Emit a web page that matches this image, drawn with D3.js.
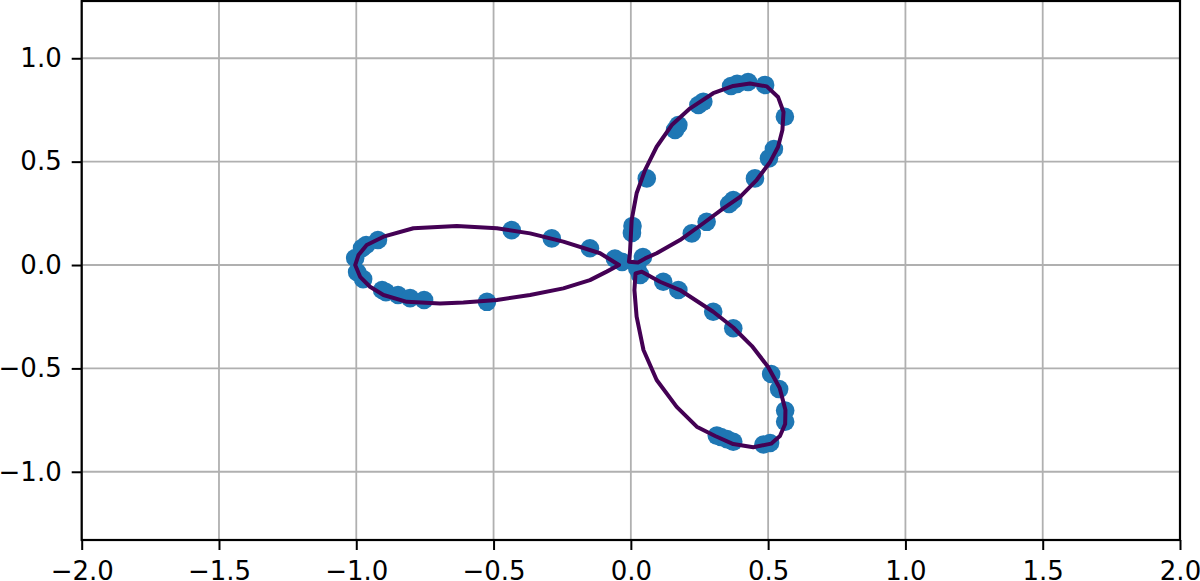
<!DOCTYPE html>
<html>
<head>
<meta charset="utf-8">
<script src="https://cdn.jsdelivr.net/npm/d3@7"></script>
<style>
  html, body { margin: 0; padding: 0; background: #fff; }
  svg { display: block; }
  text { font-family: "DejaVu Sans", sans-serif; }
</style>
</head>
<body>
<svg id="chart" width="1200" height="581"></svg>
<script>
// ---------- data ----------
const xTicks = [-2.0, -1.5, -1.0, -0.5, 0.0, 0.5, 1.0, 1.5, 2.0];
const yTicks = [-1.0, -0.5, 0.0, 0.5, 1.0];
const xDomain = [-2.0, 2.0];
const yDomain = [-1.330, 1.277];

// noisy samples (scatter)
const samples = [
  [-1.004, 0.034], [-0.979, 0.082], [-0.964, 0.097], [-0.921, 0.121],
  [-0.997, -0.034], [-0.975, -0.068], [-0.906, -0.121], [-0.892, -0.131],
  [-0.848, -0.145], [-0.804, -0.160], [-0.753, -0.169], [-0.524, -0.178],
  [-0.434, 0.169], [-0.288, 0.129], [-0.149, 0.081], [-0.058, 0.031],
  [-0.032, 0.015],
  [0.044, 0.039], [0.023, -0.015], [0.034, -0.048], [0.006, 0.189], [0.004, 0.155],
  [0.058, 0.419], [0.161, 0.653], [0.173, 0.677], [0.246, 0.774], [0.264, 0.790],
  [0.365, 0.866], [0.387, 0.876], [0.427, 0.885], [0.489, 0.871], [0.561, 0.717],
  [0.521, 0.561], [0.503, 0.516], [0.452, 0.419], [0.373, 0.314], [0.358, 0.295],
  [0.276, 0.209], [0.222, 0.153],
  [0.118, -0.081], [0.173, -0.121], [0.300, -0.226], [0.373, -0.306],
  [0.511, -0.527], [0.540, -0.600], [0.562, -0.704], [0.562, -0.758],
  [0.507, -0.861], [0.483, -0.868], [0.313, -0.825], [0.328, -0.832],
  [0.350, -0.842], [0.373, -0.855]
];

// fitted curve, one closed loop per petal
const petalLeft = [
  [-0.043, 0.000], [-0.088, -0.032], [-0.149, -0.073], [-0.246, -0.113],
  [-0.367, -0.145], [-0.488, -0.169], [-0.610, -0.181], [-0.695, -0.186],
  [-0.816, -0.178], [-0.901, -0.145], [-0.950, -0.105], [-0.986, -0.057],
  [-1.004, 0.000], [-0.992, 0.048], [-0.962, 0.097], [-0.901, 0.137],
  [-0.792, 0.178], [-0.634, 0.189], [-0.488, 0.178], [-0.367, 0.153],
  [-0.246, 0.113], [-0.112, 0.057]
];
const petalUpper = [
  [-0.007, 0.016], [-0.003, 0.064], [0.003, 0.218], [0.021, 0.347],
  [0.052, 0.460], [0.094, 0.572], [0.149, 0.677], [0.216, 0.758],
  [0.300, 0.831], [0.373, 0.866], [0.434, 0.878], [0.495, 0.864],
  [0.536, 0.813], [0.556, 0.740], [0.552, 0.653], [0.536, 0.571],
  [0.507, 0.498], [0.458, 0.411], [0.398, 0.330], [0.337, 0.274],
  [0.264, 0.202], [0.179, 0.121], [0.094, 0.057], [0.052, 0.032],
  [0.026, 0.012]
];
const petalLower = [
  [0.040, -0.032], [0.106, -0.081], [0.179, -0.121], [0.300, -0.226],
  [0.373, -0.302], [0.441, -0.392], [0.500, -0.493], [0.542, -0.595],
  [0.563, -0.701], [0.562, -0.769], [0.543, -0.827], [0.511, -0.864],
  [0.446, -0.881], [0.373, -0.866], [0.307, -0.827], [0.240, -0.782],
  [0.167, -0.686], [0.094, -0.556], [0.046, -0.411], [0.021, -0.250],
  [0.013, -0.121], [0.017, -0.041]
];

// ---------- drawing ----------
(function () {
const svg = d3.select("#chart");
const mLeft = 81.7, mRight = 1180, mTop = 1, mBottom = 540;

const x = d3.scaleLinear().domain(xDomain).range([mLeft, mRight]);
const y = d3.scaleLinear().domain(yDomain).range([mBottom, mTop]);
const fmt = d3.format(".1f");

// grid
const grid = svg.append("g");
grid.selectAll("line.gx").data(xTicks).join("line").attr("class", "gx")
  .attr("x1", d => x(d)).attr("x2", d => x(d))
  .attr("y1", mTop).attr("y2", mBottom)
  .attr("stroke", "#b0b0b0").attr("stroke-width", 1.8);
grid.selectAll("line.gy").data(yTicks).join("line").attr("class", "gy")
  .attr("y1", d => y(d)).attr("y2", d => y(d))
  .attr("x1", mLeft).attr("x2", mRight)
  .attr("stroke", "#b0b0b0").attr("stroke-width", 1.8);

// scatter
svg.append("g").selectAll("circle").data(samples).join("circle")
  .attr("cx", d => x(d[0])).attr("cy", d => y(d[1]))
  .attr("r", 9.3)
  .attr("fill", "#1f77b4");

// fitted curve
const line = d3.line().x(d => x(d[0])).y(d => y(d[1])).curve(d3.curveLinearClosed);
svg.append("g").selectAll("path").data([petalLeft, petalUpper, petalLower]).join("path")
  .attr("d", line)
  .attr("fill", "none")
  .attr("stroke", "#440154")
  .attr("stroke-width", 4)
  .attr("stroke-linejoin", "round")
  .attr("stroke-linecap", "round");

// frame
svg.append("rect")
  .attr("x", mLeft).attr("y", mTop)
  .attr("width", mRight - mLeft).attr("height", mBottom - mTop)
  .attr("fill", "none").attr("stroke", "#000").attr("stroke-width", 2.2);

// axes
const xAxis = svg.append("g").attr("transform", `translate(0,${mBottom})`)
  .call(d3.axisBottom(x).tickValues(xTicks).tickFormat(fmt).tickSize(10).tickPadding(12));
const yAxis = svg.append("g").attr("transform", `translate(${mLeft},0)`)
  .call(d3.axisLeft(y).tickValues(yTicks).tickFormat(fmt).tickSize(10).tickPadding(10));

[xAxis, yAxis].forEach(g => {
  g.select(".domain").remove();
  g.selectAll(".tick line").attr("stroke", "#000").attr("stroke-width", 2);
  g.selectAll(".tick text")
    .attr("fill", "#000")
    .style("font-family", "'DejaVu Sans', sans-serif")
    .style("font-size", "26px");
});
})();
</script>
</body>
</html>
